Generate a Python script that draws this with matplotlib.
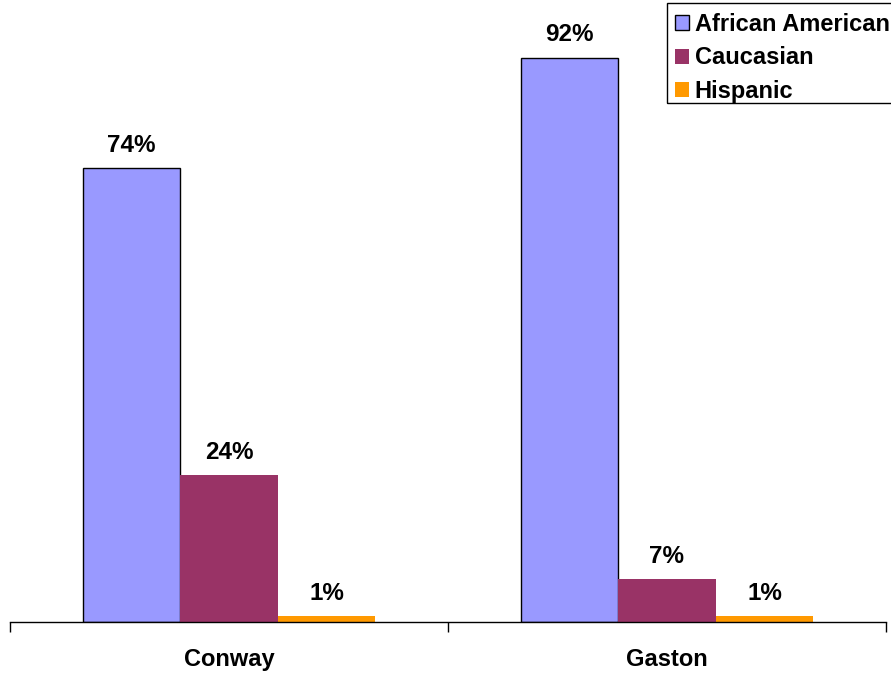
import matplotlib
matplotlib.use("Agg")
import matplotlib.pyplot as plt
from matplotlib.patches import Rectangle
import numpy as np

plt.rcParams['font.family'] = ['Liberation Sans', 'DejaVu Sans']
plt.rcParams['font.weight'] = 'bold'

categories = ["Conway", "Gaston"]
series_names = ["African American", "Caucasian", "Hispanic"]
african_american = [74, 92]
caucasian = [24, 7]
hispanic = [1, 1]
value_labels = [["74%", "92%"], ["24%", "7%"], ["1%", "1%"]]

colors = ["#9999FF", "#993366", "#FF9900"]
edges = ["black", "none", "none"]

W, H = 891, 675
fig = plt.figure(figsize=(W / 100, H / 100), dpi=100)
ax = fig.add_axes([10 / W, 1 - 622 / H, 876 / W, 613.5 / H])

x = np.arange(len(categories))
w = 0.2225
series = [african_american, caucasian, hispanic]
for i, (vals, name) in enumerate(zip(series, series_names)):
    pos = x + (i - 1) * w
    bars = ax.bar(pos, vals, width=w, color=colors[i], edgecolor=edges[i],
                  linewidth=1.0, label=name, zorder=2)
    for b, lab in zip(bars, value_labels[i]):
        ax.annotate(lab, (b.get_x() + b.get_width() / 2, b.get_height()),
                    xytext=(0, 8), textcoords="offset points",
                    ha="center", va="bottom", fontsize=17.5, fontweight="bold")

ax.set_xlim(-0.5, len(categories) - 0.5)
ax.set_ylim(0, 100)
ax.set_yticks([])
ax.set_xticks(x)
ax.set_xticklabels(categories, fontsize=17, fontweight="bold")
ax.tick_params(axis="x", which="major", length=0, pad=19)
ax.set_xticks(np.arange(len(categories) + 1) - 0.5, minor=True)
ax.tick_params(axis="x", which="minor", length=7, width=1, direction="out", color="black")
for s in ["left", "top", "right"]:
    ax.spines[s].set_visible(False)
ax.spines["bottom"].set_color("black")
ax.spines["bottom"].set_linewidth(1)

# legend entries without their own frame; the box is drawn separately
leg = fig.legend(loc="upper left", bbox_to_anchor=(667 / W, 1 - 5 / H),
                 bbox_transform=fig.transFigure, borderaxespad=0,
                 fontsize=17, frameon=False,
                 handlelength=0.6, handleheight=0.6, handletextpad=0.25,
                 labelspacing=0.45, borderpad=0.33)
for t in leg.get_texts():
    t.set_fontweight("bold")

fig.add_artist(Rectangle((667 / W, 1 - 103 / H), 240 / W, 100 / H,
                         transform=fig.transFigure, fill=False,
                         edgecolor="black", linewidth=1.0))

fig.savefig("out.png", dpi=100)
